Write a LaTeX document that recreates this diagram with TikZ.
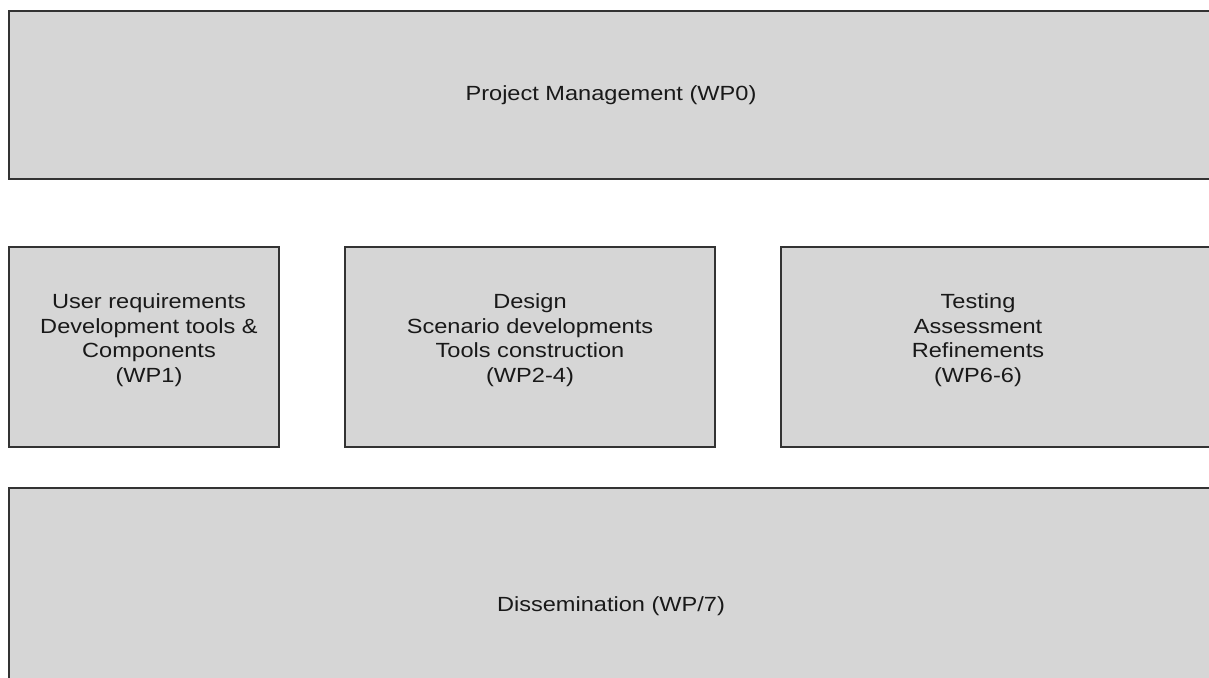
\documentclass[tikz,border=0pt]{standalone}
\usepackage{fontspec}
\setmainfont[FakeStretch=1.15]{Liberation Sans}
\begin{document}
\begin{tikzpicture}[
		x=1pt, y=-1pt,
		wp/.style={draw=black!80, line width=2pt, fill=black!16, inner sep=0pt, anchor=north west},
		wptext/.style={align=center, text=black!90, font=\fontsize{20.5}{24.5}\selectfont}
	]
	\useasboundingbox (0,0) rectangle (1209,677);
	\clip (0,0) rectangle (1209,677);
	% top and bottom bands
	\node[wp, minimum width=1210pt, minimum height=168pt] (pm) at (8,10) {};
	\node[wptext] (pmtext) at (611,95) {Project Management (WP0)};
	\node[wp, minimum width=1210pt, minimum height=240pt] (diss) at (8,487) {};
	\node[wptext] (disstext) at (611,606) {Dissemination (WP/7)};
	% work packages
	\node[wp, minimum width=270pt, minimum height=200pt] (wpone) at (8,246) {};
	\node[wp, minimum width=370pt, minimum height=200pt] (wptwo) at (344,246) {};
	\node[wp, minimum width=440pt, minimum height=200pt] (wpsix) at (780,246) {};
	\node[wptext] (wponetext) at (149,340) {User requirements\\Development tools \&\\Components\\(WP1)};
	\node[wptext] (wptwotext) at (530,340) {Design\\Scenario developments\\Tools construction\\(WP2-4)};
	\node[wptext] (wpsixtext) at (978,340) {Testing\\Assessment\\Refinements\\(WP6-6)};
\end{tikzpicture}
\end{document}
